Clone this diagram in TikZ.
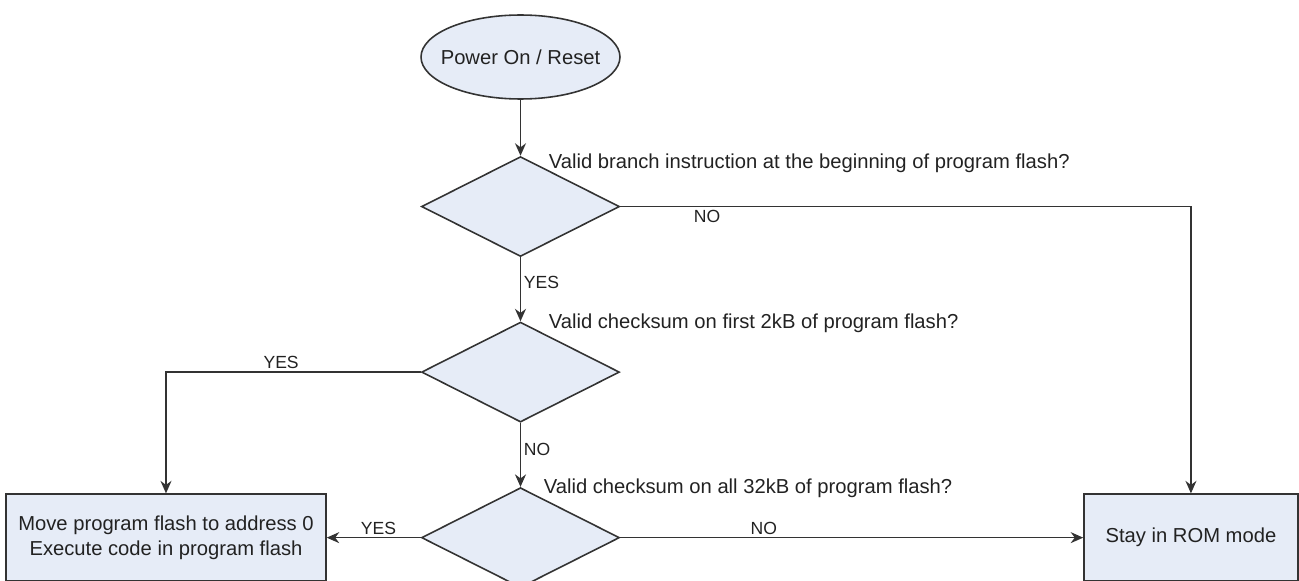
\documentclass[tikz,border=0pt]{standalone}
\usepackage{fontspec}
\setmainfont{Liberation Sans}
\usetikzlibrary{arrows.meta,positioning,shapes.geometric}
\definecolor{boxfill}{HTML}{E6ECF7}
\definecolor{linegray}{HTML}{333333}
\definecolor{textgray}{HTML}{222222}

\begin{document}
\begin{tikzpicture}[
    x=0.02cm,y=-0.02cm,
    font=\fontsize{11.5}{14}\selectfont,
    text=textgray,
    terminal/.style={ellipse,draw=linegray,line width=0.9pt,fill=boxfill,minimum width=3.98cm,minimum height=1.68cm,inner sep=0pt},
    decision/.style={diamond,draw=linegray,line width=0.9pt,fill=boxfill,minimum width=3.96cm,minimum height=2cm,inner sep=0pt},
    action/.style={draw=linegray,line width=0.9pt,fill=boxfill,align=center,minimum height=1.74cm,inner sep=0pt},
    question/.style={anchor=base west,inner sep=0pt},
    answer/.style={font=\fontsize{10}{12}\selectfont,inner sep=1.5pt},
    arrow/.style={-{Stealth[length=2.5mm,width=2.2mm]},line width=0.9pt,draw=linegray}
  ]
    \useasboundingbox (0,0) rectangle (1299,581);

    \node[terminal,label=center:Power On / Reset] (power) at (520.5,57) {};
    \node[decision,below=1.12cm of power] (branch) {};
    \node[decision,below=1.28cm of branch] (first) {};
    \node[decision,below=1.28cm of first] (all) {};
    \node[action,minimum width=6.4cm,left=1.88cm of all] (move) {Move program flash to address 0\\Execute code in program flash};
    \node[action,minimum width=4.28cm,right=9.26cm of all] (rom) {Stay in ROM mode};

    \node[question,xshift=0.56cm,yshift=-0.26cm] (qbranch) at (branch.north) {Valid branch instruction at the beginning of program flash?};
    \node[question,xshift=0.56cm,yshift=-0.14cm] (qfirst) at (first.north) {Valid checksum on first 2kB of program flash?};
    \node[question,xshift=0.46cm,yshift=-0.14cm] (qall) at (all.north) {Valid checksum on all 32kB of program flash?};

    \draw[arrow] (power) -- (branch);
    \draw[arrow] (branch.east) -| node[answer,pos=0.076,below]{NO} (rom.north);
    \draw[arrow] (branch.south) -- node[answer,pos=0.4,right]{YES} (first.north);
    \draw[arrow] (first.west) -| node[answer,pos=0.274,above]{YES} (move.north);
    \draw[arrow] (first.south) -- node[answer,pos=0.42,right]{NO} (all.north);
    \draw[arrow] (all.west) -- node[answer,pos=0.45,above]{YES} (move.east);
    \draw[arrow] (all.east) -- node[answer,pos=0.31,above]{NO} (rom.west);
\end{tikzpicture}
\end{document}
